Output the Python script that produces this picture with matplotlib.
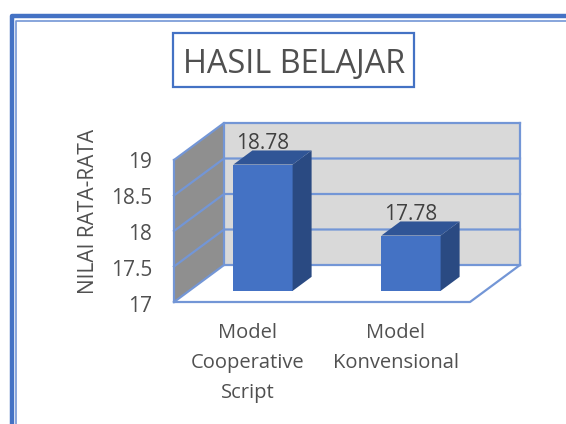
import matplotlib
matplotlib.use("Agg")
import matplotlib.pyplot as plt
from matplotlib.patches import Polygon, Rectangle

plt.rcParams['font.family'] = ['Open Sans', 'DejaVu Sans']

# data
categories = ["Model\nCooperative\nScript", "Model\nKonvensional"]
values = [18.78, 17.78]
value_labels = ["18.78", "17.78"]
ticks = [17, 17.5, 18, 18.5, 19]
tick_labels = ["17", "17.5", "18", "18.5", "19"]

W, H = 566, 424
BLUE = "#4472c4"
LINE = "#7396d6"
TEXT = "#505050"

fig = plt.figure(figsize=(W / 100, H / 100), dpi=100)

# axes fills the figure, x in category units and y in chart values
ax = fig.add_axes([0, 0, 1, 1])
PX_X = 148.0
PX_Y = 71.0
ax.set_xlim((0 - 248) / PX_X, (W - 248) / PX_X)
ax.set_ylim(17 - (H - 302) / PX_Y, 17 + 302 / PX_Y)
ax.axis("off")

# depth of the fake 3d box
DX = 50 / PX_X
DY = 37 / PX_Y
x0, x1 = -0.5, 1.5
top = ticks[-1]
base = ticks[0]


def pr(c, v, d=0.0):
    return (c + d * DX, v + d * DY)


def px(x, y):
    # figure pixels to axes data, only for the frame and title box
    return (x - 248) / PX_X, 17 + (302 - y) / PX_Y


# outer frame, runs off the bottom and right of the picture
fig.add_artist(plt.Line2D([11.5 / W, 11.5 / W, 1], [0, 1 - 16 / H, 1 - 16 / H], color=BLUE, lw=3.2,
                          solid_joinstyle="round"))
fig.add_artist(plt.Line2D([15.8 / W, 15.8 / W, 1], [0, 1 - 20.8 / H, 1 - 20.8 / H], color=LINE, lw=1.2))

# walls
ax.add_patch(Polygon([pr(x0, base, 1), pr(x1, base, 1), pr(x1, top, 1), pr(x0, top, 1)], fc="#d9d9d9", ec="none"))
ax.add_patch(Polygon([pr(x0, base), pr(x0, base, 1), pr(x0, top, 1), pr(x0, top)], fc="#8f8f8f", ec="none"))

# grid lines on side and back wall
for t in ticks:
    a, b, c = pr(x0, t), pr(x0, t, 1), pr(x1, t, 1)
    ax.plot([a[0], b[0], c[0]], [a[1], b[1], c[1]], color=LINE, lw=1.6, solid_joinstyle="round")
for pts in ([pr(x0, base), pr(x0, top)], [pr(x0, base, 1), pr(x0, top, 1)], [pr(x1, base, 1), pr(x1, top, 1)],
            [pr(x0, base), pr(x1, base), pr(x1, base, 1)]):
    xs, ys = zip(*pts)
    ax.plot(xs, ys, color=LINE, lw=1.6)

# bars
d0, d1 = 0.30, 0.68
hw = 0.2
for i, v in enumerate(values):
    l, r = i - hw, i + hw
    ax.add_patch(Polygon([pr(l, base, d0), pr(r, base, d0), pr(r, v, d0), pr(l, v, d0)], fc=BLUE, ec="none", zorder=3))
    ax.add_patch(Polygon([pr(r, base, d0), pr(r, base, d1), pr(r, v, d1), pr(r, v, d0)], fc="#2a4a82", ec="none", zorder=3))
    ax.add_patch(Polygon([pr(l, v, d0), pr(r, v, d0), pr(r, v, d1), pr(l, v, d1)], fc="#305596", ec="none", zorder=3))
    lx, ly = pr(i, v, d0)
    ax.text(lx, ly + 0.30, value_labels[i], ha="center", va="center", fontsize=15, color="#404040", zorder=4)

# value axis labels, slightly wider steps than the grid like the original
for t, s in zip(ticks, tick_labels):
    ax.text(px(152, 0)[0], t - 0.04 - (19 - t) * 0.012, s, ha="right", va="center", fontsize=15, color=TEXT)

# category labels
for i, s in enumerate(categories):
    ax.text(i, px(0, 323.5)[1], s, ha="center", va="top", fontsize=14.5, color=TEXT, linespacing=1.66)

ax.text(px(89, 0)[0], px(0, 211)[1], "NILAI RATA-RATA", rotation=90, ha="center", va="center", fontsize=15,
        color=TEXT)

# title in its box
bx0, by0 = px(173, 87)
bx1, by1 = px(414, 33)
ax.add_patch(Rectangle((bx0, by0), bx1 - bx0, by1 - by0, fc="white", ec=BLUE, lw=1.6))
ax.text(px(294.5, 0)[0], px(0, 64)[1], "HASIL BELAJAR", ha="center", va="center", fontsize=23.4, color=TEXT)

fig.savefig("out.png", dpi=100)
